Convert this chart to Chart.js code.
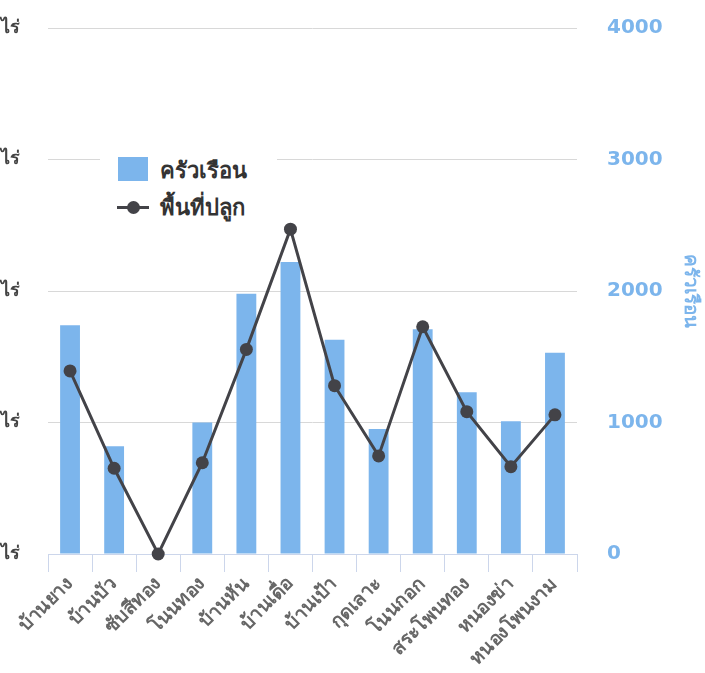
<!DOCTYPE html>
<html><head><meta charset="utf-8">
<script src="https://cdn.jsdelivr.net/npm/chart.js@4"></script>
<style>
html,body{margin:0;padding:0;background:#fff;overflow:hidden;width:705px;height:673px;}
#wrap{position:absolute;left:-100px;top:0;width:805px;height:673px;}
#legend{position:absolute;left:100px;top:146px;width:177px;height:80px;background:#fff;font-family:"DejaVu Sans","Noto Sans",sans-serif;font-weight:bold;font-size:22px;color:#333;line-height:26px;}
.sq{position:absolute;left:18px;width:30px;height:24px;background:#7cb5ec;}
.ln{position:absolute;left:17px;width:32px;height:3px;background:#434348;}
.dot{position:absolute;left:27px;width:13px;height:13px;border-radius:50%;background:#434348;}
.txt{position:absolute;left:60px;white-space:nowrap;}
</style>
</head><body>
<div id="wrap"><canvas id="c" width="805" height="673"></canvas></div>
<div id="legend">
  <div class="sq" style="top:11px"></div><div class="txt" style="top:12px">ครัวเรือน</div>
  <div class="ln" style="top:60px"></div><div class="dot" style="top:55px"></div><div class="txt" style="top:49px">พื้นที่ปลูก</div>
</div>
<script>
const categories = ['บ้านยาง','บ้านบัว','ซับสีทอง','โนนทอง','บ้านหัน','บ้านเดื่อ','บ้านเป้า','กุดเลาะ','โนนกอก','สระโพนทอง','หนองข่า','หนองโพนงาม'];
const households = [1740, 820, 0, 1000, 1980, 2220, 1630, 950, 1710, 1230, 1010, 1530];
const plantedArea = [6960, 3260, 0, 3470, 7780, 12350, 6400, 3730, 8640, 5410, 3320, 5290];
const leftAxisMax = 20000, leftAxisStep = 5000;
const rightAxisMax = 4000, rightAxisStep = 1000;

const FF = '"DejaVu Sans","Noto Sans",sans-serif';
Chart.defaults.font.family = FF;

function fixV(w){ return s=>{ s.width=w; s.paddingTop=0; s.paddingBottom=0; }; }

new Chart(document.getElementById('c'), {
  data: {
    labels: categories,
    datasets: [
      {type:'line', label:'พื้นที่ปลูก', data: plantedArea, yAxisID:'yL', order:0,
       borderColor:'#434348', borderWidth:3, pointRadius:6.5, pointBackgroundColor:'#434348',
       pointBorderWidth:0, tension:0, clip:false},
      {type:'bar', label:'ครัวเรือน', data: households, yAxisID:'yR', order:1,
       backgroundColor:'#7cb5ec', borderWidth:0, categoryPercentage:1, barPercentage:0.45}
    ]
  },
  options: {
    responsive:false, animation:false, devicePixelRatio:1,
    layout:{padding:{top:28,left:0,right:0,bottom:0}},
    plugins:{legend:{display:false}, tooltip:{enabled:false}},
    scales:{
      x:{
        grid:{drawOnChartArea:false, color:'#ccd6eb', tickLength:18, offset:true},
        border:{color:'#ccd6eb'},
        ticks:{color:'#666', font:{size:19, weight:'bold'}, maxRotation:45, minRotation:45, padding:1, autoSkip:false},
        afterFit:s=>{ s.height=119; s.paddingLeft=0; s.paddingRight=0; }
      },
      yL:{
        position:'left', min:0, max:leftAxisMax,
        ticks:{stepSize:leftAxisStep, padding:28, color:'#444', font:{size:18, weight:'bold'},
               callback:v=>v.toLocaleString('en-US')+' ไร่'},
        grid:{color:'#d8d8d8', drawTicks:false},
        border:{display:false},
        afterFit:fixV(148)
      },
      yR:{
        position:'right', min:0, max:rightAxisMax,
        ticks:{stepSize:rightAxisStep, padding:30, color:'#7cb5ec', font:{size:20, weight:'bold'},
               callback:v=>String(v)},
        grid:{drawOnChartArea:false, drawTicks:false},
        border:{display:false},
        title:{display:true, text:'ครัวเรือน', color:'#7cb5ec', font:{size:19, weight:'bold'}},
        afterFit:fixV(128)
      }
    }
  }
});
</script>
</body></html>
